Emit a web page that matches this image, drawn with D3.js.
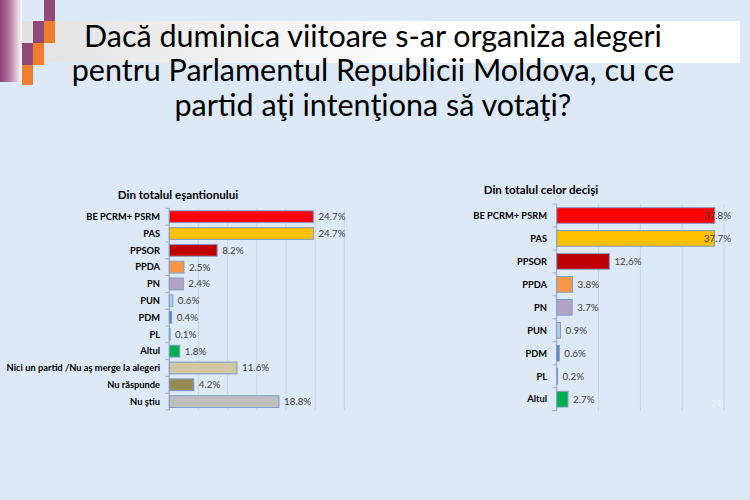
<!DOCTYPE html>
<html><head><meta charset="utf-8">
<script src="https://cdn.jsdelivr.net/npm/d3@7"></script>
<style>html,body{margin:0;padding:0;background:#dde9f6;}svg{display:block;}</style>
</head><body>
<svg id="c" width="750" height="500"></svg>
<script>
// ---- data ----
const titleLines = ["Dacă duminica viitoare s-ar organiza alegeri", "pentru Parlamentul Republicii Moldova, cu ce", "partid aţi intenţiona să votaţi?"];
const leftTitle = "Din totalul eşantionului";
const leftCategories = ["BE PCRM+ PSRM","PAS","PPSOR","PPDA","PN","PUN","PDM","PL","Altul","Nici un partid /Nu aş merge la alegeri","Nu răspunde","Nu ştiu"];
const leftValues = [24.7,24.7,8.2,2.5,2.4,0.6,0.4,0.1,1.8,11.6,4.2,18.8];
const leftColors = ["#ff0000","#ffc000","#c00000","#f79646","#b3a2c7","#b9cde5","#4f81bd","#c6d9f1","#00b050","#cfc7a1","#948a54","#bfbfbf"];
const leftTicks = [0,5,10,15,20,25,30];
const rightTitle = "Din totalul celor decişi";
const rightCategories = ["BE PCRM+ PSRM","PAS","PPSOR","PPDA","PN","PUN","PDM","PL","Altul"];
const rightValues = [37.8,37.7,12.6,3.8,3.7,0.9,0.6,0.2,2.7];
const rightColors = ["#ff0000","#ffc000","#c00000","#f79646","#b3a2c7","#b9cde5","#4f81bd","#c6d9f1","#00b050"];
const rightTicks = [0,10,20,30,40];

const svg = d3.select("#c");
const FONT = "Lato, 'Open Sans', sans-serif";

// background
svg.append("rect").attr("width",750).attr("height",500).attr("fill","#dde9f6");

// decorative header
const defs = svg.append("defs");
const g1 = defs.append("linearGradient").attr("id","strip").attr("x1","0").attr("x2","1");
g1.append("stop").attr("offset","0").attr("stop-color","#8e4377");
g1.append("stop").attr("offset","0.45").attr("stop-color","#b57aa0");
g1.append("stop").attr("offset","1").attr("stop-color","#ffffff").attr("stop-opacity","0.9");
const g2 = defs.append("linearGradient").attr("id","band").attr("x1","0").attr("x2","1");
g2.append("stop").attr("offset","0").attr("stop-color","#e2e2e2");
g2.append("stop").attr("offset","0.35").attr("stop-color","#f4f4f4");
g2.append("stop").attr("offset","0.6").attr("stop-color","#ffffff");
g2.append("stop").attr("offset","1").attr("stop-color","#ffffff");

svg.append("rect").attr("x",22).attr("y",21).attr("width",718).attr("height",42).attr("fill","url(#band)");
svg.append("rect").attr("x",11).attr("y",21).attr("width",11).attr("height",22).attr("fill","#e6e6e6");
svg.append("rect").attr("x",0).attr("y",0).attr("width",22).attr("height",82).attr("fill","url(#strip)");
const squares = [
  [44,0,11,21,"#93487a"],
  [33,21,11,22,"#93487a"],[44,21,11,22,"#ef7d2c"],
  [22,43,11,22,"#93487a"],[33,43,11,22,"#ef7d2c"],
  [22,65,11,20,"#ef7d2c"]
];
svg.selectAll("rect.sq").data(squares).join("rect").attr("class","sq")
  .attr("x",d=>d[0]).attr("y",d=>d[1]).attr("width",d=>d[2]).attr("height",d=>d[3]).attr("fill",d=>d[4]);

// title
svg.append("g").selectAll("text").data(titleLines).join("text")
  .attr("x",373).attr("y",(d,i)=>47+i*34.3)
  .attr("text-anchor","middle").attr("font-family",FONT).attr("font-size",30.5)
  .attr("fill","#000").text(d=>d);

function drawChart(opts){
  const {cats, vals, colors, ticks, x0, x1, y0, y1, dMax, pi, po, labelRight, title, tx, ty, labelMax} = opts;
  const g = svg.append("g");
  const x = d3.scaleLinear().domain([0,dMax]).range([x0,x1]);
  const y = d3.scaleBand().domain(cats).range([y0,y1]).paddingInner(pi).paddingOuter(po);
  // gridlines
  g.append("g").selectAll("line").data(ticks).join("line")
    .attr("x1",d=>x(d)).attr("x2",d=>x(d)).attr("y1",y0).attr("y2",y1)
    .attr("stroke","#c3d4ea").attr("stroke-width",1);
  // axis line with band ticks
  const edges = d3.range(cats.length+1).map(i=>y0 + i*(y1-y0)/cats.length);
  g.append("line").attr("x1",x0).attr("x2",x0).attr("y1",y0).attr("y2",y1).attr("stroke","#9aa8b8").attr("stroke-width",1);
  g.append("g").selectAll("line").data(edges).join("line")
    .attr("x1",x0-4).attr("x2",x0).attr("y1",d=>d).attr("y2",d=>d).attr("stroke","#9aa8b8");
  // bars
  g.append("g").selectAll("rect").data(vals).join("rect")
    .attr("x",x(0)).attr("y",(d,i)=>y(cats[i]))
    .attr("width",d=>Math.max(0.8,x(d)-x(0))).attr("height",y.bandwidth())
    .attr("fill",(d,i)=>colors[i]).attr("stroke","#7d9cc9").attr("stroke-width",1);
  // category labels
  g.append("g").selectAll("text").data(cats).join("text")
    .attr("x",labelRight).attr("y",d=>y(d)+y.bandwidth()/2).attr("dy","0.35em")
    .attr("text-anchor","end").attr("font-family",FONT).attr("font-weight","bold")
    .attr("font-size",9.3).attr("fill","#000").text(d=>d);
  // value labels
  const vl = g.append("g").selectAll("text").data(vals).join("text")
    .attr("y",(d,i)=>y(cats[i])+y.bandwidth()/2).attr("dy","0.35em")
    .attr("font-family",FONT).attr("font-size",9.8).attr("fill","#404040")
    .text(d=>d.toFixed(1)+"%");
  vl.each(function(d){
    const w = this.getComputedTextLength();
    let px = x(d)+5;
    if (labelMax && px + w > labelMax) px = labelMax - w;
    d3.select(this).attr("x",px);
  });
  // chart title
  svg.append("text").attr("x",tx).attr("y",ty).attr("text-anchor","middle")
    .attr("font-family",FONT).attr("font-weight","bold").attr("font-size",11.6).attr("fill","#000").text(title);
}

drawChart({cats:leftCategories, vals:leftValues, colors:leftColors, ticks:leftTicks,
  x0:169.3, x1:344.3, y0:208.3, y1:410, dMax:30, pi:0.3, po:0.15, labelRight:160,
  title:leftTitle, tx:178, ty:199});
drawChart({cats:rightCategories, vals:rightValues, colors:rightColors, ticks:rightTicks,
  x0:556.7, x1:724, y0:204, y1:410.7, dMax:40, pi:0.32, po:0.16, labelRight:547,
  title:rightTitle, tx:541, ty:194, labelMax:731});

// faint slide number
svg.append("text").attr("x",716).attr("y",407).attr("text-anchor","middle")
  .attr("font-family",FONT).attr("font-size",9).attr("fill","#eaf1f9").text("24");
</script>
</body></html>
